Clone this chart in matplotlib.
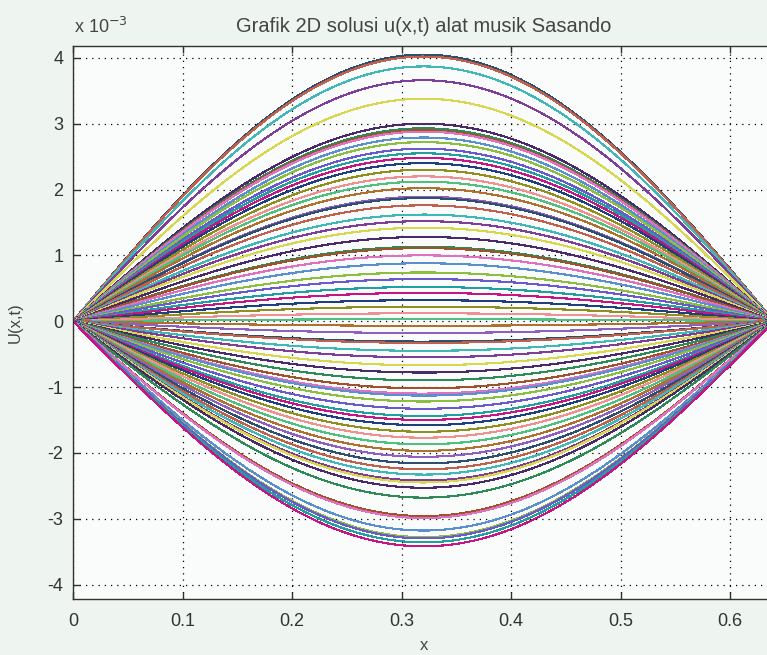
import numpy as np
import matplotlib.pyplot as plt

plt.rcParams['font.family'] = ['Liberation Sans', 'DejaVu Sans']
plt.rcParams['axes.unicode_minus'] = False

# string length (m) and peak amplitude of each profile u(x,t_k), in units of 1e-3
L = 0.64
amp_pos = [4.05, 4.02, 3.87, 3.66, 3.38, 3.00, 2.93, 2.90, 2.88, 2.79, 2.72,
           2.62, 2.55, 2.48, 2.40, 2.30, 2.20, 2.12, 2.02, 1.89, 1.87, 1.76,
           1.62, 1.52, 1.42, 1.28, 1.13, 1.11, 1.00, 0.88, 0.74, 0.64, 0.52,
           0.43, 0.32, 0.22, 0.12, 0.03]
amp_neg = [-0.07, -0.18, -0.31, -0.33, -0.45, -0.55, -0.67, -0.78, -0.90,
           -1.02, -1.10, -1.13, -1.22, -1.33, -1.44, -1.50, -1.58, -1.68,
           -1.77, -1.87, -1.97, -2.06, -2.16, -2.25, -2.33, -2.42, -2.45,
           -2.53, -2.68, -2.96, -2.99, -3.18, -3.28, -3.30, -3.36, -3.42]
amplitudes = amp_pos + amp_neg

xticks = [0, 0.1, 0.2, 0.3, 0.4, 0.5, 0.6]
yticks = [-4, -3, -2, -1, 0, 1, 2, 3, 4]

line_colors = ['#2f4f6f', '#c0604d', '#40b8b8', '#7f3f98', '#d8d850',
               '#4b2a6b', '#2e8b57', '#a0522d', '#e070c0', '#5a8fd0',
               '#8cbf3f', '#6a5acd', '#20a0a0', '#c71585', '#1f3f7f',
               '#909020', '#f09090', '#50c080', '#b07030', '#9060c0']

x = np.linspace(0, L, 200)

fig = plt.figure(figsize=(7.67, 6.55), dpi=100, facecolor='#eef5f1')
ax = fig.add_axes([73/767, 56/655, 701/767, 553/655])
ax.set_facecolor('#f9fcfa')

for k, a in enumerate(amplitudes):
    ax.plot(x, a * np.sin(np.pi * x / L), color=line_colors[k % len(line_colors)],
            lw=0.8, antialiased=False)

ax.set_xlim(0, L)
ax.set_ylim(-4.22, 4.18)
ax.set_xticks(xticks)
ax.set_xticklabels([f"{t:g}" for t in xticks])
ax.set_yticks(yticks)
ax.grid(True, color='black', linestyle=(0, (1, 4)), linewidth=0.9)
ax.tick_params(direction='in', length=5, width=1, top=True, right=True,
               labelsize=13, colors='#333333', pad=7)
ax.tick_params(axis='x', pad=10)
for s in ax.spines.values():
    s.set_color('#333333')
    s.set_linewidth(1.0)

ax.set_xlabel('x', fontsize=12, color='#444444', labelpad=6)
ax.set_ylabel('U(x,t)', fontsize=12, color='#444444', labelpad=18)
ax.set_title('Grafik 2D solusi u(x,t) alat musik Sasando', fontsize=14.5,
             color='#444444', pad=10)
fig.text(74/767, 1 - 27/655, r'x 10$^{-3}$', fontsize=13, color='#444444',
         va='center', ha='left')

fig.savefig('out.png', dpi=100, facecolor=fig.get_facecolor())
